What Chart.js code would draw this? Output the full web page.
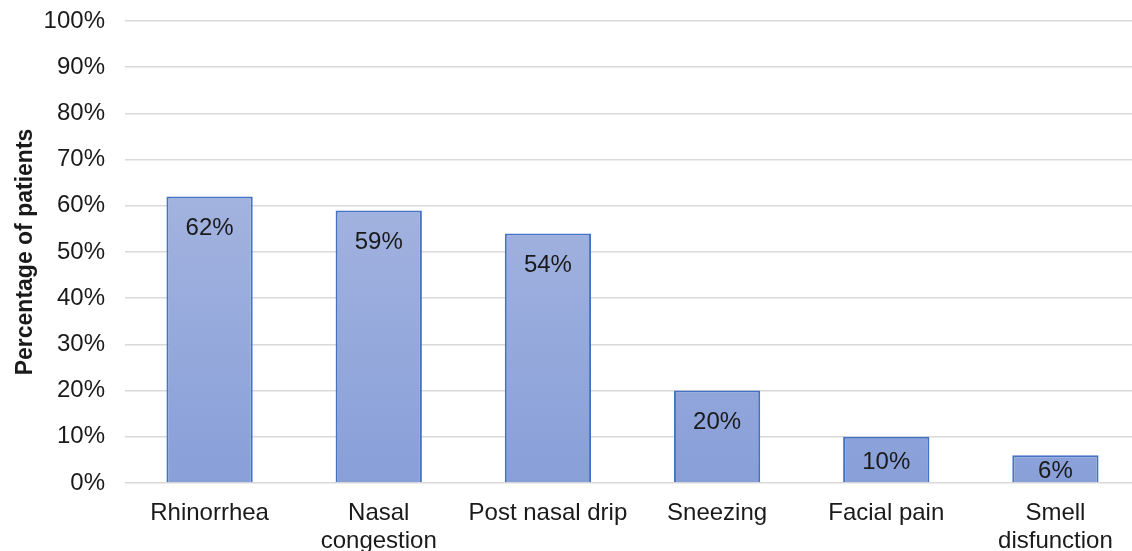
<!DOCTYPE html>
<html>
<head>
<meta charset="utf-8">
<script src="https://cdn.jsdelivr.net/npm/chart.js@4/dist/chart.umd.min.js"></script>
<style>
  html, body { margin: 0; padding: 0; background: #ffffff; overflow: hidden; }
  #wrap { width: 1140px; height: 551px; position: relative; }
  canvas { display: block; }
</style>
</head>
<body>
<div id="wrap"><canvas id="chart" width="1140" height="551"></canvas></div>
<script>
// Symptom categories (multi-line labels as arrays)
const categories = [
  'Rhinorrhea',
  ['Nasal', 'congestion'],
  'Post nasal drip',
  'Sneezing',
  'Facial pain',
  ['Smell', 'disfunction']
];
// Share of patients reporting each symptom (%)
const percentages = [62, 59, 54, 20, 10, 6];
// Y-axis tick values (%)
const yTicks = [0, 10, 20, 30, 40, 50, 60, 70, 80, 90, 100];

const FONT = '"Liberation Sans", Arial, Helvetica, sans-serif';

// Vertical gradient fill for the bars
function barGradient(ctx) {
  const chart = ctx.chart;
  const area = chart.chartArea;
  if (!area) return '#98abdc';
  const g = chart.ctx.createLinearGradient(0, area.top, 0, area.bottom);
  g.addColorStop(0, '#b3bfe4');
  g.addColorStop(1, '#889fd8');
  return g;
}

// Value labels drawn inside the top of each bar
const insideEndLabels = {
  id: 'insideEndLabels',
  afterDatasetsDraw(chart) {
    const c = chart.ctx;
    const meta = chart.getDatasetMeta(0);
    c.save();
    c.font = '24px ' + FONT;
    c.fillStyle = '#1a1a1a';
    c.textAlign = 'center';
    c.textBaseline = 'middle';
    meta.data.forEach((bar, i) => {
      const top = bar.y;
      const bottom = bar.base;
      const y = Math.min(top + 32, (top + bottom) / 2 + 3);
      c.fillText(percentages[i] + '%', bar.x, y);
    });
    c.restore();
  }
};

new Chart(document.getElementById('chart'), {
  type: 'bar',
  data: {
    labels: categories,
    datasets: [{
      data: percentages,
      backgroundColor: barGradient,
      borderColor: '#4472c4',
      borderWidth: 2,
      borderSkipped: 'bottom',
      categoryPercentage: 1,
      barPercentage: 0.51
    }]
  },
  options: {
    responsive: false,
    maintainAspectRatio: false,
    animation: false,
    devicePixelRatio: 1,
    layout: { padding: { top: 21, right: 0, bottom: 0, left: 0 } },
    plugins: {
      legend: { display: false },
      tooltip: { enabled: false }
    },
    scales: {
      x: {
        grid: { display: false, drawTicks: false },
        border: { display: false },
        ticks: {
          color: '#1a1a1a',
          font: { family: FONT, size: 24, lineHeight: 1.17 },
          padding: 16,
          maxRotation: 0,
          autoSkip: false
        },
        afterFit(scale) {
          scale.height = 68;
          scale.paddingLeft = 0;
          scale.paddingRight = 0;
        }
      },
      y: {
        min: 0,
        max: 100,
        afterBuildTicks(scale) {
          scale.ticks = yTicks.map(v => ({ value: v }));
        },
        grid: { color: '#d9d9d9', lineWidth: 1.5, drawTicks: false },
        border: { display: false },
        ticks: {
          color: '#1a1a1a',
          font: { family: FONT, size: 24 },
          padding: 20,
          callback: v => v + '%'
        },
        title: {
          display: true,
          text: 'Percentage of patients',
          color: '#1a1a1a',
          font: { family: FONT, size: 23, weight: 'bold' },
          padding: { top: 12, bottom: 0 }
        },
        afterFit(scale) {
          scale.width = 125;
          scale.paddingTop = 0;
          scale.paddingBottom = 0;
        }
      }
    }
  },
  plugins: [insideEndLabels]
});
</script>
</body>
</html>
